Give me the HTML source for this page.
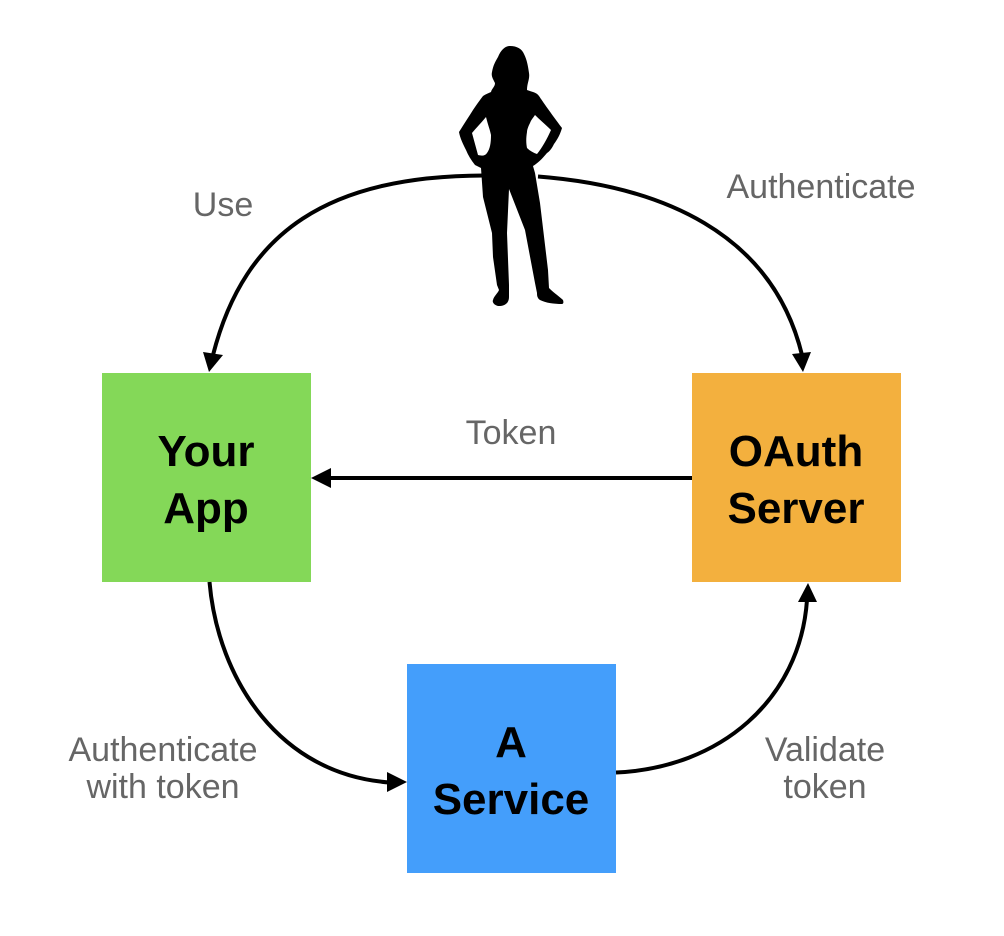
<!DOCTYPE html>
<html><head><meta charset="utf-8"><style>
html,body{margin:0;padding:0;background:#fff}
svg{display:block}
.l{font:34px "Liberation Sans",sans-serif;fill:#666;text-anchor:middle}
.b{font:bold 44px "Liberation Sans",sans-serif;fill:#000;text-anchor:middle}
.c{fill:none;stroke:#000;stroke-width:4}
</style></head><body>
<svg width="1004" height="936" viewBox="0 0 1004 936" xmlns="http://www.w3.org/2000/svg">
<rect x="102" y="373" width="209" height="209" fill="#84D858"/>
<rect x="692" y="373" width="209" height="209" fill="#F3B03E"/>
<rect x="407" y="664" width="209" height="209" fill="#449EFB"/>
<path class="c" d="M484 175.500C330 176 245 230 213 355"/>
<path class="c" d="M538 176.500C660 186 772 232 802 355"/>
<path class="c" d="M692 478H330"/>
<path class="c" d="M209.500 582C218 680 280 775 390 782.500"/>
<path class="c" d="M616 772.500C720 768 800 700 807 600"/>
<path d="M209 372L203 352L223 355Z"/>
<path d="M803 372L792 354L811 352Z"/>
<path d="M311 478L331 468V488Z"/>
<path d="M407 782L387 772V792Z"/>
<path d="M808 583L798 602L817 602Z"/>
<path d="M510 46C517 46 522 49 524 54C527 60 528 66 529 73C530 79 527 83 527 90C532 92 536 92 539 96C543 102 550 112 562 128C560 135 557 140 554 144C552 148 550 151 547 153C542 159 538 163 533 166L535 173L540 203L548 270L549 288C554 293 560 297 563 300C564 303 563 304 562 304C554 304 546 303 540 300C537 298 537 295 537 293L535 283L525 230L509 189L507 233L509 285V297C509 301 507 303 507 303C504 306 501 306 498 306C494 305 492 302 493 300C494 296 498 293 499 290L497 285L493 257L492 233L483 197L481 168L475 165C471 160 468 155 466 150C463 144 460 138 459 132C464 124 468 118 473 110C477 104 480 100 483 96C486 94 489 93 491 92C492 88 495 87 495 83C493 79 491 76 492 72C493 66 495 62 498 57C501 50 505 46 510 46ZM486 117C482 122 477 127 472 133L478 155C482 156 485 156 487 153C490 149 491 143 491 135C490 130 488 125 486 117ZM535 115C533 118 531 120 530 123C528 127 527 130 527 132C526 138 526 143 527 148C530 151 534 153 537 154C542 148 547 139 551 130C546 125 540 120 535 115Z" fill-rule="evenodd"/>
<text class="b" x="206" y="466">Your</text>
<text class="b" x="206" y="523">App</text>
<text class="b" x="796" y="466">OAuth</text>
<text class="b" x="796" y="523">Server</text>
<text class="b" x="511" y="757">A</text>
<text class="b" x="511" y="814">Service</text>
<text class="l" x="223" y="216">Use</text>
<text class="l" x="821" y="198">Authenticate</text>
<text class="l" x="511" y="444">Token</text>
<text class="l" x="163" y="761">Authenticate</text>
<text class="l" x="163" y="798">with token</text>
<text class="l" x="825" y="761">Validate</text>
<text class="l" x="825" y="798">token</text>
</svg>
</body></html>
